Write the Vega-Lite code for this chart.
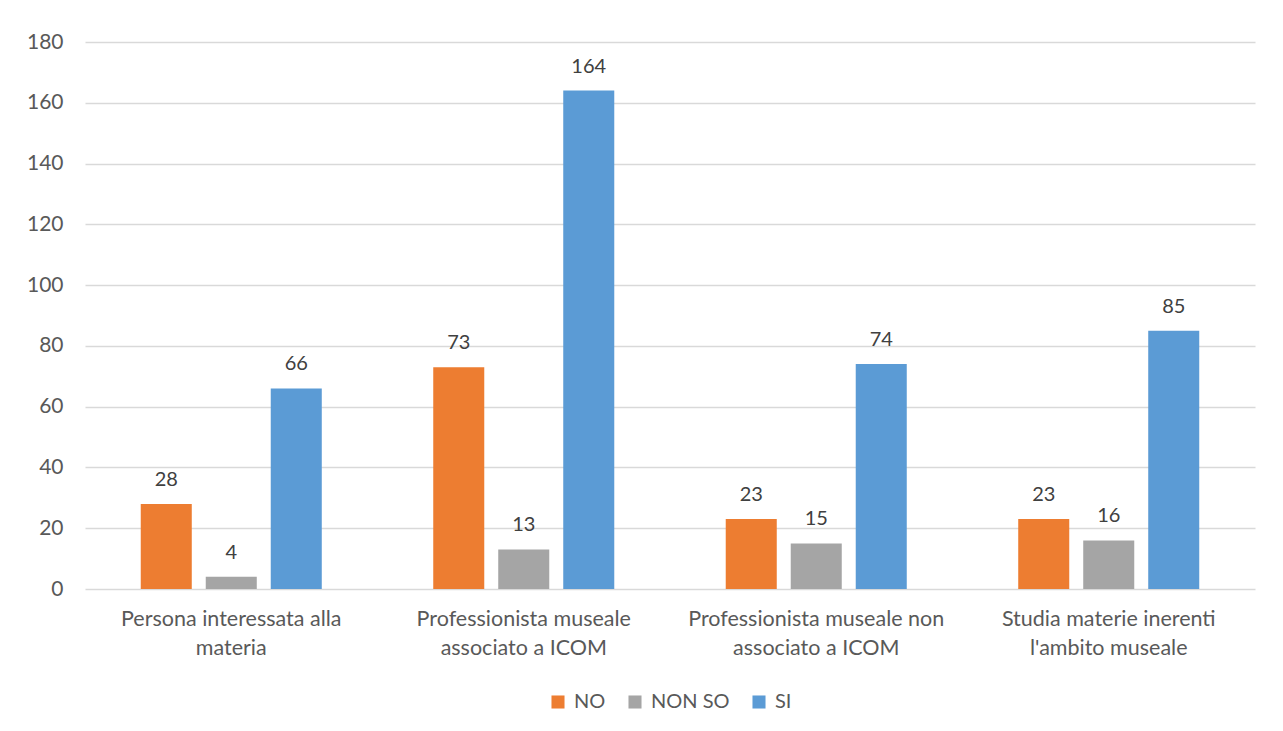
{
  "$schema": "https://vega.github.io/schema/vega-lite/v6.json",
  "width": 1170,
  "height": 547,
  "autosize": {"type": "none"},
  "padding": {"left": 85, "top": 42, "right": 28, "bottom": 142},
  "background": "#ffffff",
  "data": {
    "values": [
      {"categoria": "Persona interessata alla materia", "risposta": "NO", "n": 28},
      {"categoria": "Persona interessata alla materia", "risposta": "NON SO", "n": 4},
      {"categoria": "Persona interessata alla materia", "risposta": "SI", "n": 66},
      {"categoria": "Professionista museale associato a ICOM", "risposta": "NO", "n": 73},
      {"categoria": "Professionista museale associato a ICOM", "risposta": "NON SO", "n": 13},
      {"categoria": "Professionista museale associato a ICOM", "risposta": "SI", "n": 164},
      {"categoria": "Professionista museale non associato a ICOM", "risposta": "NO", "n": 23},
      {"categoria": "Professionista museale non associato a ICOM", "risposta": "NON SO", "n": 15},
      {"categoria": "Professionista museale non associato a ICOM", "risposta": "SI", "n": 74},
      {"categoria": "Studia materie inerenti l'ambito museale", "risposta": "NO", "n": 23},
      {"categoria": "Studia materie inerenti l'ambito museale", "risposta": "NON SO", "n": 16},
      {"categoria": "Studia materie inerenti l'ambito museale", "risposta": "SI", "n": 85}
    ]
  },
  "encoding": {
    "x": {
      "field": "categoria",
      "type": "nominal",
      "sort": null,
      "scale": {"paddingInner": 0.3333, "paddingOuter": 0.1667},
      "axis": {
        "title": null,
        "labelAngle": 0,
        "domain": false,
        "ticks": false,
        "labelPadding": 19,
        "labelLimit": 0,
        "labelFont": "Lato",
        "labelFontSize": 21.5,
        "labelColor": "#595959",
        "labelLineHeight": 29,
        "labelExpr": "datum.value == 'Persona interessata alla materia' ? ['Persona interessata alla', 'materia'] : datum.value == 'Professionista museale associato a ICOM' ? ['Professionista museale', 'associato a ICOM'] : datum.value == 'Professionista museale non associato a ICOM' ? ['Professionista museale non', 'associato a ICOM'] : ['Studia materie inerenti', 'l\\'ambito museale']"
      }
    },
    "xOffset": {
      "field": "risposta",
      "type": "nominal",
      "sort": ["NO", "NON SO", "SI"],
      "scale": {"paddingInner": 0.215, "paddingOuter": 0.1075}
    },
    "y": {
      "field": "n",
      "type": "quantitative",
      "scale": {"domain": [0, 180]},
      "axis": {
        "title": null,
        "values": [0, 20, 40, 60, 80, 100, 120, 140, 160, 180],
        "domain": false,
        "ticks": false,
        "labelPadding": 22,
        "labelFont": "Lato",
        "labelFontSize": 21,
        "labelColor": "#595959",
        "gridColor": "#d9d9d9",
        "gridWidth": 1.5
      }
    }
  },
  "layer": [
    {
      "mark": {"type": "bar"},
      "encoding": {
        "color": {
          "field": "risposta",
          "type": "nominal",
          "sort": ["NO", "NON SO", "SI"],
          "scale": {"domain": ["NO", "NON SO", "SI"], "range": ["#ED7D31", "#A5A5A5", "#5B9BD5"]},
          "legend": {
            "title": null,
            "orient": "bottom",
            "direction": "horizontal",
            "symbolType": "square",
            "symbolSize": 170,
            "symbolStrokeWidth": 0,
            "labelOffset": 6,
            "labelFont": "Lato",
            "labelFontSize": 20,
            "labelColor": "#595959",
            "columnPadding": 19,
            "offset": 33
          }
        }
      }
    },
    {
      "mark": {"type": "text", "dy": -24, "font": "Lato", "fontSize": 20, "color": "#404040"},
      "encoding": {"text": {"field": "n", "type": "quantitative"}}
    }
  ],
  "config": {
    "view": {"stroke": null},
    "legend": {"layout": {"bottom": {"anchor": "middle"}}}
  }
}
